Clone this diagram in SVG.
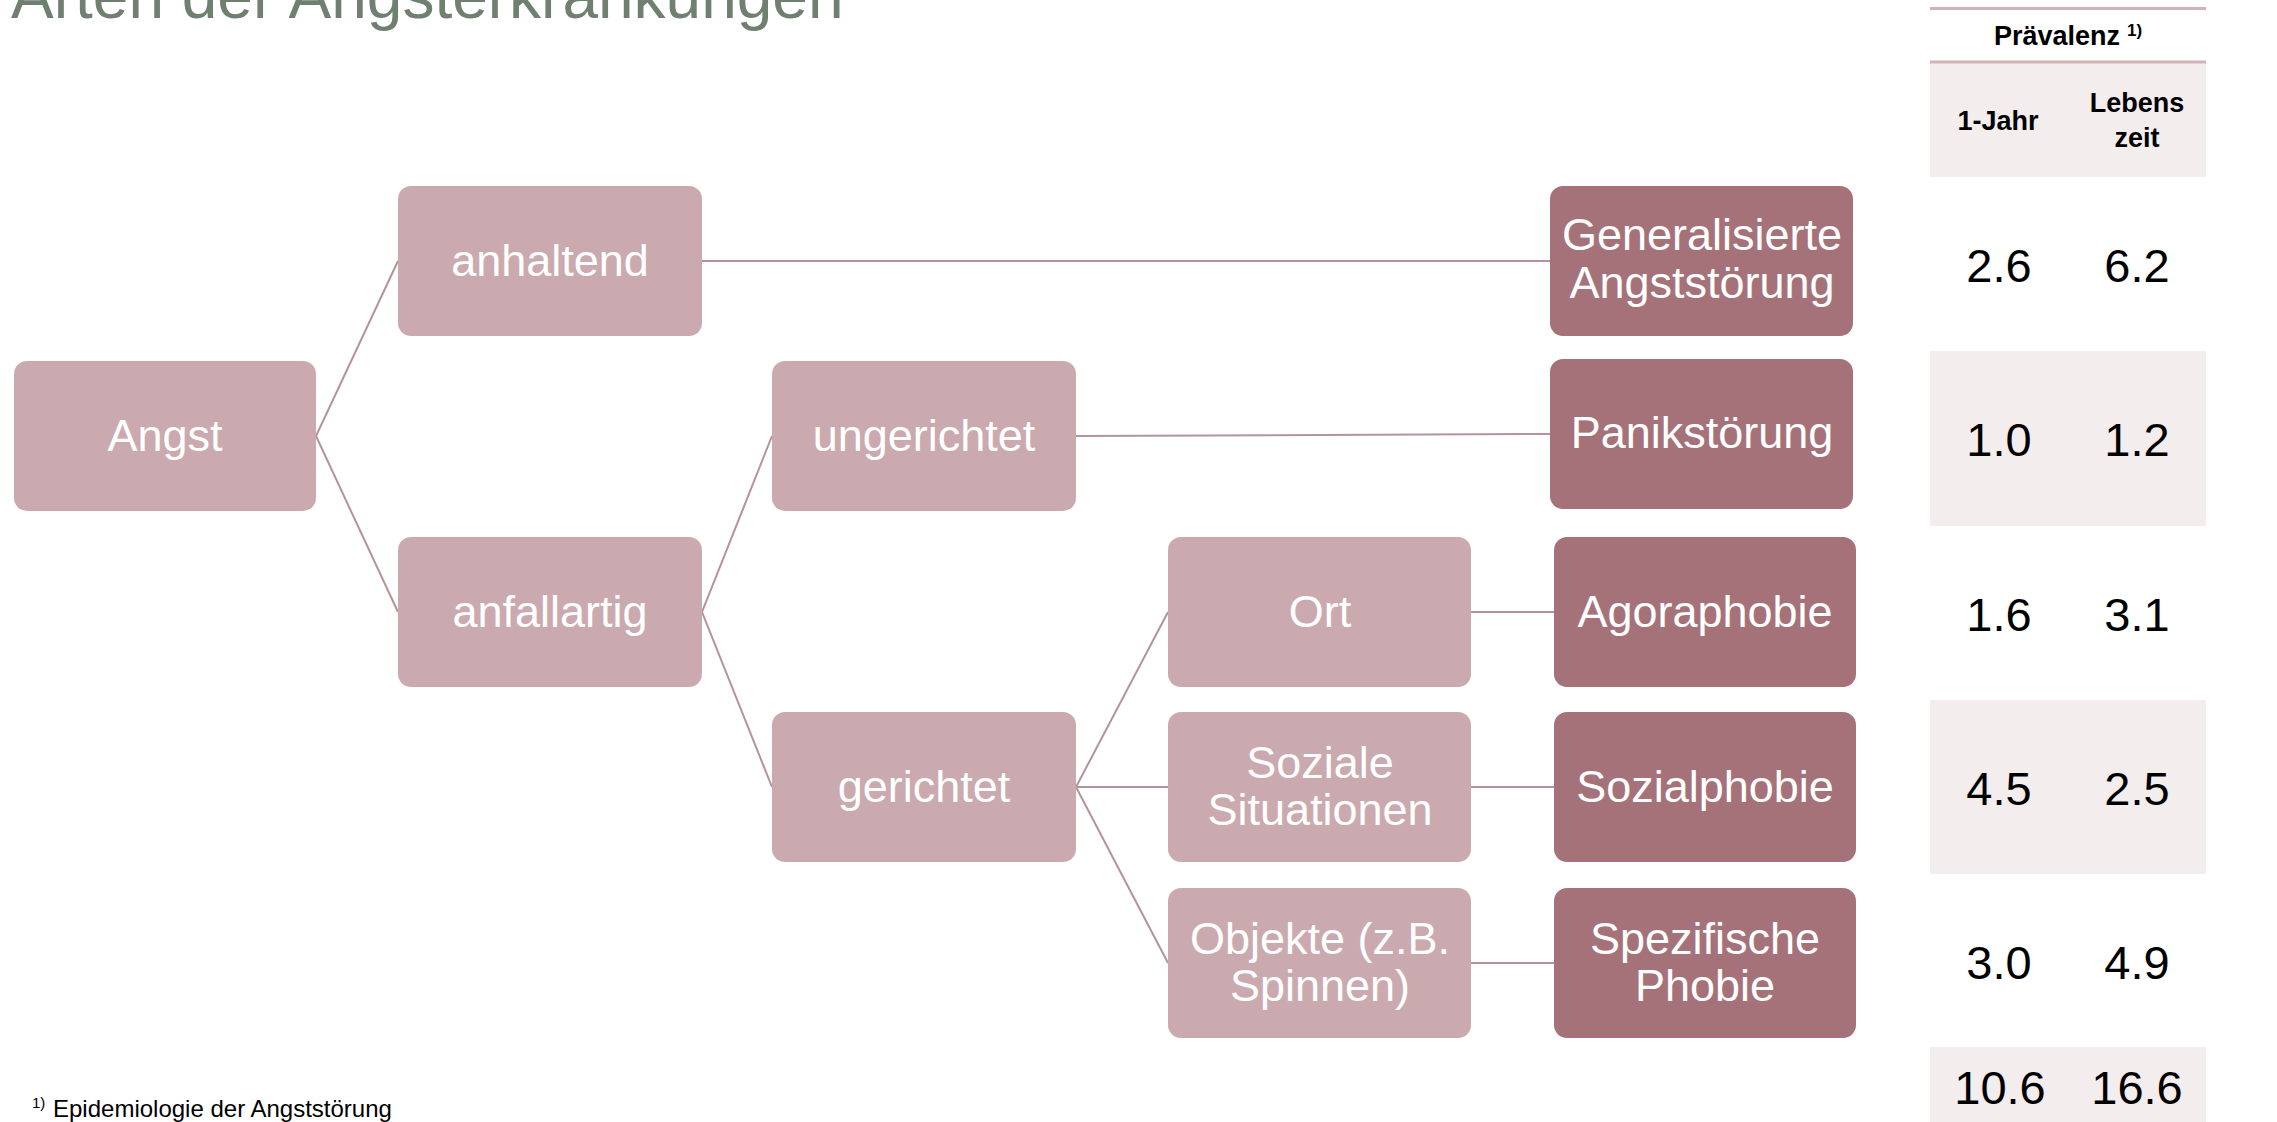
<svg xmlns="http://www.w3.org/2000/svg" width="2277" height="1122" viewBox="0 0 2277 1122">
<style>
.lt{fill:#cbaaaf}
.dk{fill:#a6727a}
.nt{font-family:"Liberation Sans",Arial,sans-serif;font-size:45px;fill:#ffffff;text-anchor:middle}
.cn{stroke:#b4939a;stroke-width:2;fill:none}
.num{font-family:"Liberation Sans",Arial,sans-serif;font-size:47px;fill:#000000;text-anchor:middle}
.hd{font-family:"Liberation Sans",Arial,sans-serif;font-size:27px;font-weight:bold;fill:#000000;text-anchor:middle}
.band{fill:#f3edee}
</style>
<rect width="2277" height="1122" fill="#ffffff"/>
<text x="11" y="18" font-family="Liberation Sans,Arial,sans-serif" font-size="64" fill="#6f7f70">Arten der Angsterkrankungen</text>

<g id="table">
<rect class="band" x="1930" y="62" width="276" height="115"/>
<rect class="band" x="1930" y="351" width="276" height="175"/>
<rect class="band" x="1930" y="700" width="276" height="174"/>
<rect class="band" x="1930" y="1047" width="276" height="75"/>
<line x1="1930" y1="8.5" x2="2206" y2="8.5" stroke="#d3b3b8" stroke-width="3"/>
<line x1="1930" y1="62" x2="2206" y2="62" stroke="#d3b3b8" stroke-width="3"/>
<text class="hd" x="2057" y="45" font-size="28">Prävalenz</text>
<text font-family="Liberation Sans,Arial,sans-serif" font-size="17" font-weight="bold" x="2127" y="36">1)</text>
<text class="hd" x="1998" y="130">1-Jahr</text>
<text class="hd" x="2137" y="112">Lebens</text>
<text class="hd" x="2137" y="147">zeit</text>
<text class="num" x="1999" y="282">2.6</text><text class="num" x="2137" y="282">6.2</text>
<text class="num" x="1999" y="456">1.0</text><text class="num" x="2137" y="456">1.2</text>
<text class="num" x="1999" y="631">1.6</text><text class="num" x="2137" y="631">3.1</text>
<text class="num" x="1999" y="805">4.5</text><text class="num" x="2137" y="805">2.5</text>
<text class="num" x="1999" y="979">3.0</text><text class="num" x="2137" y="979">4.9</text>
<text class="num" x="2000" y="1104">10.6</text><text class="num" x="2137" y="1104">16.6</text>
</g>

<g id="connectors">
<polyline class="cn" points="398,261 316,436 398,612"/>
<line class="cn" x1="702" y1="261" x2="1550" y2="261"/>
<polyline class="cn" points="772,436 702,612 772,787"/>
<line class="cn" x1="1076" y1="436" x2="1550" y2="434"/>
<polyline class="cn" points="1168,612 1076,787 1168,963"/>
<line class="cn" x1="1076" y1="787" x2="1168" y2="787"/>
<line class="cn" x1="1471" y1="612" x2="1554" y2="612"/>
<line class="cn" x1="1471" y1="787" x2="1554" y2="787"/>
<line class="cn" x1="1471" y1="963" x2="1554" y2="963"/>
</g>

<g id="n-angst"><rect class="lt" x="14" y="361" width="302" height="150" rx="13"/><text class="nt" x="165" y="451">Angst</text></g>
<g id="n-anhaltend"><rect class="lt" x="398" y="186" width="304" height="150" rx="13"/><text class="nt" x="550" y="276">anhaltend</text></g>
<g id="n-anfallartig"><rect class="lt" x="398" y="537" width="304" height="150" rx="13"/><text class="nt" x="550" y="627">anfallartig</text></g>
<g id="n-ungerichtet"><rect class="lt" x="772" y="361" width="304" height="150" rx="13"/><text class="nt" x="924" y="451">ungerichtet</text></g>
<g id="n-gerichtet"><rect class="lt" x="772" y="712" width="304" height="150" rx="13"/><text class="nt" x="924" y="802">gerichtet</text></g>
<g id="n-ort"><rect class="lt" x="1168" y="537" width="303" height="150" rx="13"/><text class="nt" x="1320" y="627">Ort</text></g>
<g id="n-soziale"><rect class="lt" x="1168" y="712" width="303" height="150" rx="13"/><text class="nt" x="1320" y="778">Soziale</text><text class="nt" x="1320" y="825">Situationen</text></g>
<g id="n-objekte"><rect class="lt" x="1168" y="888" width="303" height="150" rx="13"/><text class="nt" x="1320" y="954">Objekte (z.B.</text><text class="nt" x="1320" y="1001">Spinnen)</text></g>
<g id="n-gad"><rect class="dk" x="1550" y="186" width="303" height="150" rx="13"/><text class="nt" x="1702" y="250">Generalisierte</text><text class="nt" x="1702" y="298">Angststörung</text></g>
<g id="n-panik"><rect class="dk" x="1550" y="359" width="303" height="150" rx="13"/><text class="nt" x="1702" y="448">Panikstörung</text></g>
<g id="n-agora"><rect class="dk" x="1554" y="537" width="302" height="150" rx="13"/><text class="nt" x="1705" y="627">Agoraphobie</text></g>
<g id="n-sozial"><rect class="dk" x="1554" y="712" width="302" height="150" rx="13"/><text class="nt" x="1705" y="802">Sozialphobie</text></g>
<g id="n-spez"><rect class="dk" x="1554" y="888" width="302" height="150" rx="13"/><text class="nt" x="1705" y="954">Spezifische</text><text class="nt" x="1705" y="1001">Phobie</text></g>

<g id="footnote">
<text font-family="Liberation Sans,Arial,sans-serif" font-size="15" x="32" y="1108">1)</text>
<text font-family="Liberation Sans,Arial,sans-serif" font-size="24" x="53" y="1117">Epidemiologie der Angststörung</text>
</g>
</svg>
